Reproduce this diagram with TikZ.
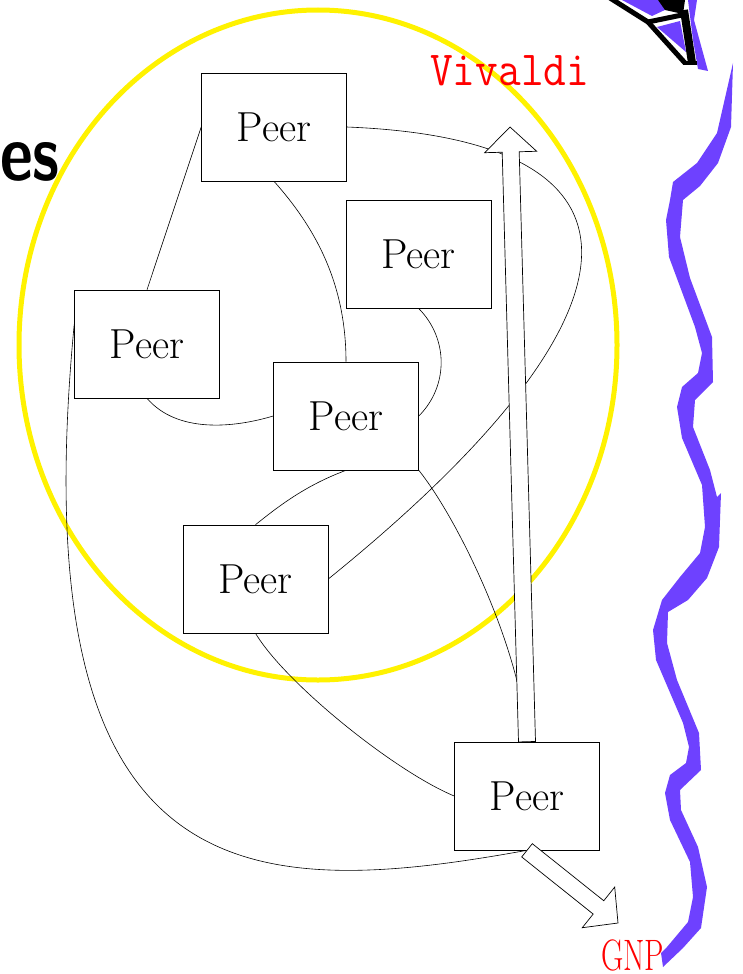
\documentclass[tikz,border=0pt]{standalone}
\usetikzlibrary{calc}
\definecolor{wave}{HTML}{6E41FF}
\tikzset{
  peer/.style={draw=black, fill=white, line width=0.6pt, minimum width=145pt, minimum height=108pt, inner sep=0pt, font=\fontsize{42}{44}\selectfont},
  link/.style={black, line width=0.6pt},
  fatarrow/.style={draw=black, fill=white, line width=0.7pt, line join=miter},
  redlab/.style={text=red, inner sep=0pt},
}
% hollow block arrow from #1 to the tip #2
\newcommand{\hollowarrow}[2]{%
  \coordinate (hb) at ($(#2)!25pt!(#1)$);
  \draw[fatarrow] ($(#1)!8.5pt!90:(#2)$) -- ($(hb)!8.5pt!90:(#2)$) -- ($(hb)!26pt!90:(#2)$)
    -- (#2) -- ($(hb)!26pt!-90:(#2)$) -- ($(hb)!8.5pt!-90:(#2)$) -- ($(#1)!8.5pt!-90:(#2)$) -- cycle;
}

\begin{document}
\begin{tikzpicture}[x=1pt, y=-1pt]
  \path[use as bounding box, clip] (0,0) rectangle (742,974);

  % end of the slide title
  \node[anchor=base east, inner sep=0pt, font=\sffamily\bfseries\fontsize{80}{82}\selectfont] (title) at (60,180) {\scalebox{0.8}[1]{es}};

  % overlay ring
  \draw[yellow, line width=5pt] (318,345) ellipse [x radius=299pt, y radius=335pt];

  % peers
  \node[peer] (ptop) at (274,127) {Peer};
  \node[peer] (pright) at (418.5,254) {Peer};
  \node[peer] (pleft) at (147,344) {Peer};
  \node[peer] (pmid) at (346,416) {Peer};
  \node[peer] (plow) at (255.5,579) {Peer};
  \node[peer] (pbot) at (527,796) {Peer};

  % overlay links
  \draw[link] (ptop.west) -- (pleft.north);
  \draw[link] (ptop.south) .. controls +(40,45) and +(0,-80) .. (pmid.north);
  \draw[link] (ptop.east) .. controls +(330,13) and +(320,-259) .. (plow.east);
  \draw[link] (pright.south) .. controls +(30,30) and +(30,-30) .. (pmid.east);
  \draw[link] (pleft.south) .. controls +(30,35) and +(-40,12) .. (pmid.west);
  \draw[link] (pmid.south) .. controls +(-40,15) and +(25,-20) .. (plow.north);
  \draw[link] (pmid.south east) .. controls +(40,50) and +(-5,-90) .. (pbot.north);
  \draw[link] (plow.south) .. controls +(30,50) and +(-60,-25) .. (pbot.west);
  \draw[link] (pleft.165) .. controls +(-55,575) and +(-277,50) .. (pbot.south);

  % the two services
  \coordinate (vtip) at (510,127);
  \coordinate (gtip) at (618,923);
  \hollowarrow{pbot.north}{vtip}
  \hollowarrow{pbot.south}{gtip}
  \node[redlab, anchor=base west, font=\ttfamily\fontsize{49}{50}\selectfont] (vlab) at (430,85) {\scalebox{0.9}[1]{Vivaldi}};
  \node[redlab, anchor=base west, font=\fontsize{44}{46}\selectfont] (glab) at (601,970) {\scalebox{0.7}[1]{GNP}};

  % wavy border on the right
  \fill[wave] (733,63) -- (731,127) -- (718,163) -- (700,186) -- (683,200) -- (680,237) -- (690,278)
    -- (712,337) -- (713,382) -- (695,400) -- (693,427) -- (710,470) -- (717,497) -- (721,493)
    -- (719,547) -- (707,578) -- (688,600) -- (668,612) -- (667,643) -- (677,680) -- (699,733)
    -- (701,770) -- (680,790) -- (681,810) -- (698,847) -- (707,887) -- (701,928) -- (683,948)
    -- (663,967) -- (661,953) -- (667,947) -- (688,922) -- (693,897) -- (690,862) -- (670,820)
    -- (665,793) -- (670,775) -- (686,763) -- (689,747) -- (683,723) -- (656,660) -- (653,630)
    -- (662,600) -- (680,577) -- (700,553) -- (705,527) -- (702,485) -- (682,438) -- (677,407)
    -- (682,387) -- (698,373) -- (702,353) -- (695,327) -- (669,257) -- (666,220) -- (670,200)
    -- (673,182) -- (697,163) -- (717,133) -- cycle;

  % corner of the figure in the top right
  \fill[wave] (622,0) -- (658,0) -- (667,9) -- (652,16) -- cycle;
  \fill[wave] (657,27) -- (680,21) -- (686,52) -- cycle;
  \fill[wave] (688,0) -- (697,0) -- (694,20) -- (708,71) -- (698,69) -- (693,40) -- cycle;
  \fill[black] (658,0) -- (685,0) -- (683,14) -- (665,10) -- cycle;
  \draw[black, line width=5pt] (610,-2) -- (648,22) -- (685,63);
  \draw[black, line width=5pt] (648,22) -- (682,15);
  \draw[black, line width=8pt] (684,10) -- (692,63);
  \draw[black, line width=4pt] (683,63) -- (697,63);
\end{tikzpicture}
\end{document}
